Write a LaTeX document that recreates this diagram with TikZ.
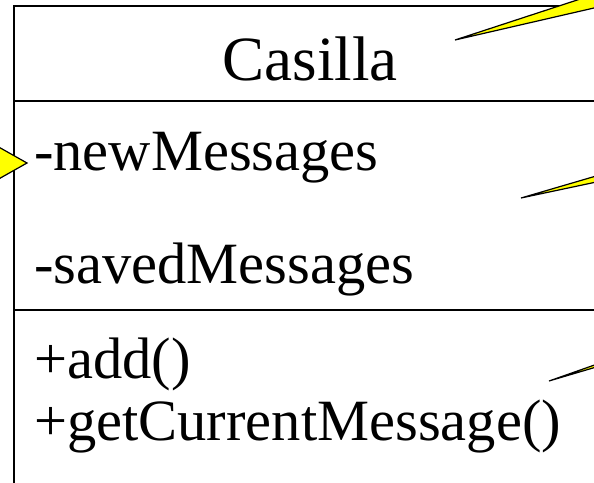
\documentclass[tikz,border=0pt]{standalone}
\usepackage{fontspec}
\setmainfont{Liberation Serif}
\usepackage{tikz}
\usetikzlibrary{calc}
\usetikzlibrary{positioning}
\definecolor{note-yellow}{RGB}{255,255,0}

\begin{document}
\begin{tikzpicture}
  [
    x=1pt, y=-1pt,
    member/.style = {anchor=base west, inner sep=0pt, font=\fontsize{58.5}{60}\selectfont},
    title/.style  = {anchor=base, inner sep=0pt, font=\fontsize{63}{64}\selectfont},
    frame/.style  = {draw=black, line width=1.6pt},
    note/.style   = {draw=black, fill=note-yellow, line width=1.2pt, line join=miter}
  ]
\useasboundingbox (0, 0) rectangle (594, 482);
\clip (0, 0) rectangle (594, 482);

% ---------------------------------------------------
% Class box (cut off at right and bottom)
\coordinate[] (tl) at (14, 6);
\coordinate[] (tr) at (620, 6);
\coordinate[] (bl) at (14, 500);
\draw[frame] (tr) -- (tl) -- (bl);
\coordinate[] (s1) at (14, 101);
\coordinate[] (s2) at (14, 310);
\draw[frame] (s1) -- ($ (s1) + (620, 0) $);
\draw[frame] (s2) -- ($ (s2) + (620, 0) $);

% Name
\node[title] (name) at (310, 80) {Casilla};
% Attributes
\node[member] (newmsg)   at (34, 170) {-newMessages};
\node[member] (savedmsg) at (34, 283) {-savedMessages};
% Operations
\node[member] (add)      at (34, 378) {+add()};
\node[member] (current)  at (34, 440) {+getCurrentMessage()};

% ---------------------------------------------------
% Callouts (pointers of the notes)
\draw[note] (455, 40) -- (620, -14) -- (620, 2) -- cycle;
\draw[note] (521, 198) -- (620, 169) -- (620, 177) -- cycle;
\draw[note] (549, 381) -- (620, 356) -- (620, 360) -- cycle;
% Arrow on the left
\draw[note] (27, 163) -- (-12, 141) -- (-12, 185) -- cycle;
% ---------------------------------------------------
\end{tikzpicture}
\end{document}
